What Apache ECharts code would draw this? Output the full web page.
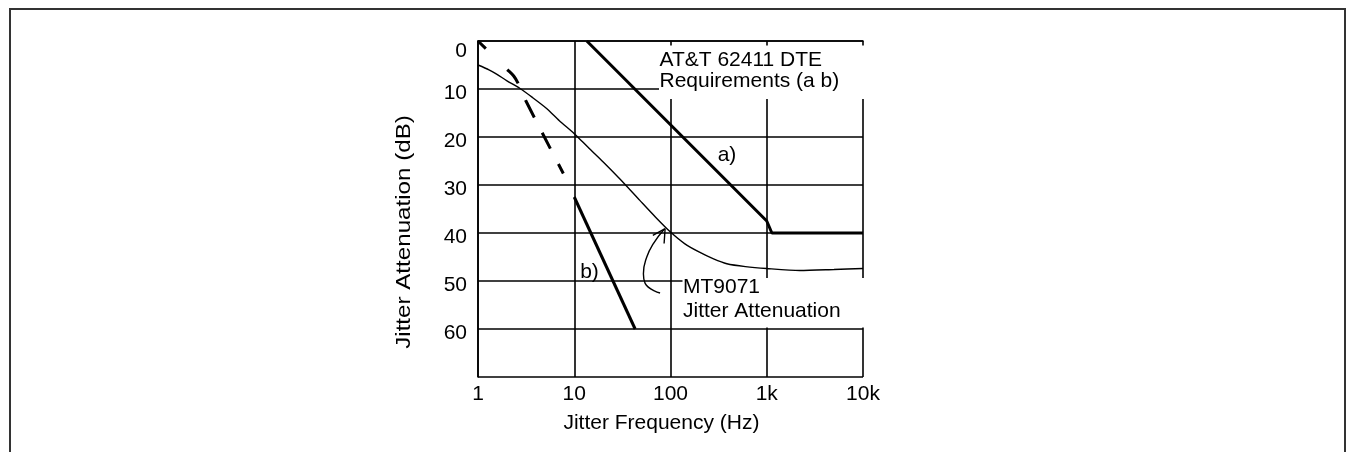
<!DOCTYPE html>
<html>
<head>
<meta charset="utf-8">
<script src="https://cdn.jsdelivr.net/npm/echarts@6/dist/echarts.min.js"></script>
<style>
  html, body { margin: 0; padding: 0; background: #fff; }
  #chart { width: 1352px; height: 452px; }
</style>
</head>
<body>
<div id="chart"></div>
<script>
// ---- data ----
const xTickLabels = ['1', '10', '100', '1k', '10k'];
const yTickLabels = ['0', '10', '20', '30', '40', '50', '60', ''];

// MT9071 jitter attenuation curve (thin)
const mtFreq  = [1, 1.3, 1.56, 2, 2.73, 3.7, 5.2, 7, 10, 14, 20, 30, 48, 70, 100, 140, 200, 280, 385, 600, 1000, 2200, 5000, 10000];
const mtAtten = [5, 6.0, 6.9, 8.3, 9.9, 11.8, 14.1, 16.6, 19.3, 22.2, 25.2, 28.8, 33.2, 36.7, 39.8, 42.2, 44, 45.4, 46.4, 47.0, 47.4, 47.8, 47.6, 47.4];

// AT&T 62411 requirement a) (thick)
const reqAFreq  = [13.5, 1000, 1130, 10000];
const reqAAtten = [0, 37.5, 40, 40];

// AT&T 62411 requirement b) (thick)
const reqBFreq  = [10, 42.9];
const reqBAtten = [32.5, 60];

// dashed curve
const dashFreq  = [1, 2.0, 2.35, 2.62, 3.13, 7.7];
const dashAtten = [0, 5.9, 7.3, 8.9, 12.4, 27.6];

// annotation arrow (curve + head)
const arrowFreq  = [77.9, 54.5, 52.3, 56.7, 66.4, 86];
const arrowAtten = [52.5, 50.5, 48.5, 45, 42.2, 39.2];
const arrowHeadFreq  = [65.5, 87.9, 85.8];
const arrowHeadAtten = [40.5, 39.1, 42.2];

const pairs = (xs, ys) => xs.map((x, i) => [x, ys[i]]);

const FONT = 'Liberation Sans, Arial, sans-serif';
const chart = echarts.init(document.getElementById('chart'), null, { renderer: 'canvas' });

const option = {
  backgroundColor: '#ffffff',
  animation: false,
  grid: { left: 478, top: 41, width: 385, height: 336, containLabel: false },
  xAxis: {
    type: 'log', logBase: 10, min: 1, max: 10000,
    axisLine: { show: true, lineStyle: { color: '#000', width: 1.6 } },
    axisTick: { show: false },
    minorTick: { show: false },
    splitLine: { show: true, lineStyle: { color: '#000', width: 1.6 } },
    axisLabel: {
      color: '#000', fontSize: 21, fontFamily: FONT, margin: 7,
      showMinLabel: true, showMaxLabel: true,
      formatter: v => xTickLabels[Math.round(Math.log10(v))]
    }
  },
  yAxis: {
    type: 'value', inverse: true, min: 0, max: 70, interval: 10,
    axisLine: { show: true, lineStyle: { color: '#000', width: 1.6 } },
    axisTick: { show: false },
    splitLine: { show: true, lineStyle: { color: '#000', width: 1.6 } },
    axisLabel: {
      color: '#000', fontSize: 21, fontFamily: FONT, margin: 11,
      formatter: v => {
        const i = Math.round(v / 10);
        const t = yTickLabels[i];
        if (!t) return '';
        return i === 0 ? '{z|' + t + '}' : '{d|' + t + '}';
      },
      rich: {
        z: { color: '#000', fontSize: 21, fontFamily: FONT, padding: [20, 0, 0, 0] },
        d: { color: '#000', fontSize: 21, fontFamily: FONT, padding: [8, 0, 0, 0] }
      }
    }
  },
  series: [
    {
      name: 'MT9071', type: 'line', data: pairs(mtFreq, mtAtten),
      smooth: 0.25, symbol: 'none',
      lineStyle: { color: '#000', width: 1.4 }
    },
    {
      name: 'a)', type: 'line', data: pairs(reqAFreq, reqAAtten),
      symbol: 'none', lineStyle: { color: '#000', width: 3 }
    },
    {
      name: 'b)', type: 'line', data: pairs(reqBFreq, reqBAtten),
      symbol: 'none', lineStyle: { color: '#000', width: 3 }
    },
    {
      name: 'dashed', type: 'line', data: pairs(dashFreq, dashAtten),
      smooth: 0.3, symbol: 'none',
      lineStyle: { color: '#000', width: 3, type: [11, 30, 17.6, 18.3, 19.6, 17, 17.7, 17.4, 20, 200] }
    },
    {
      name: 'arrow', type: 'line', data: pairs(arrowFreq, arrowAtten),
      smooth: 0.5, symbol: 'none',
      lineStyle: { color: '#000', width: 1.4 }
    },
    {
      name: 'arrowHead', type: 'line', data: pairs(arrowHeadFreq, arrowHeadAtten),
      symbol: 'none',
      lineStyle: { color: '#000', width: 1.4 }
    }
  ],
  graphic: [
    {
      type: 'polyline', z: 20,
      shape: { points: [[10, 452], [10, 9], [1345, 9], [1345, 452]] },
      style: { stroke: '#333', lineWidth: 2, fill: null }
    },
    {
      type: 'rect', z: 10,
      shape: { x: 659, y: 45.5, width: 207, height: 53.5 },
      style: { fill: '#fff' }
    },
    {
      type: 'text', z: 11, x: 659.5, y: 49.5,
      style: {
        text: 'AT&T 62411 DTE\nRequirements (a b)',
        fill: '#000', font: '21px ' + FONT, lineHeight: 21,
        align: 'left', verticalAlign: 'top'
      }
    },
    {
      type: 'rect', z: 10,
      shape: { x: 682.5, y: 278, width: 184, height: 49.5 },
      style: { fill: '#fff' }
    },
    {
      type: 'text', z: 11, x: 683, y: 275.7,
      style: {
        text: 'MT9071\nJitter Attenuation',
        fill: '#000', font: '21px ' + FONT, lineHeight: 24,
        align: 'left', verticalAlign: 'top'
      }
    },
    {
      type: 'text', z: 11, x: 727, y: 155,
      style: { text: 'a)', fill: '#000', font: '21px ' + FONT, align: 'center', verticalAlign: 'middle' }
    },
    {
      type: 'text', z: 11, x: 589.5, y: 272.5,
      style: { text: 'b)', fill: '#000', font: '21px ' + FONT, align: 'center', verticalAlign: 'middle' }
    },
    {
      type: 'text', z: 11, x: 661.4, y: 423,
      style: { text: 'Jitter Frequency (Hz)', fill: '#000', font: '21px ' + FONT, align: 'center', verticalAlign: 'middle' }
    },
    {
      type: 'text', z: 11, x: 404, y: 232, rotation: Math.PI / 2, scaleX: 1.15,
      style: { text: 'Jitter Attenuation (dB)', fill: '#000', font: '21px ' + FONT, align: 'center', verticalAlign: 'middle' }
    }
  ]
};
chart.setOption(option);
</script>
</body>
</html>
